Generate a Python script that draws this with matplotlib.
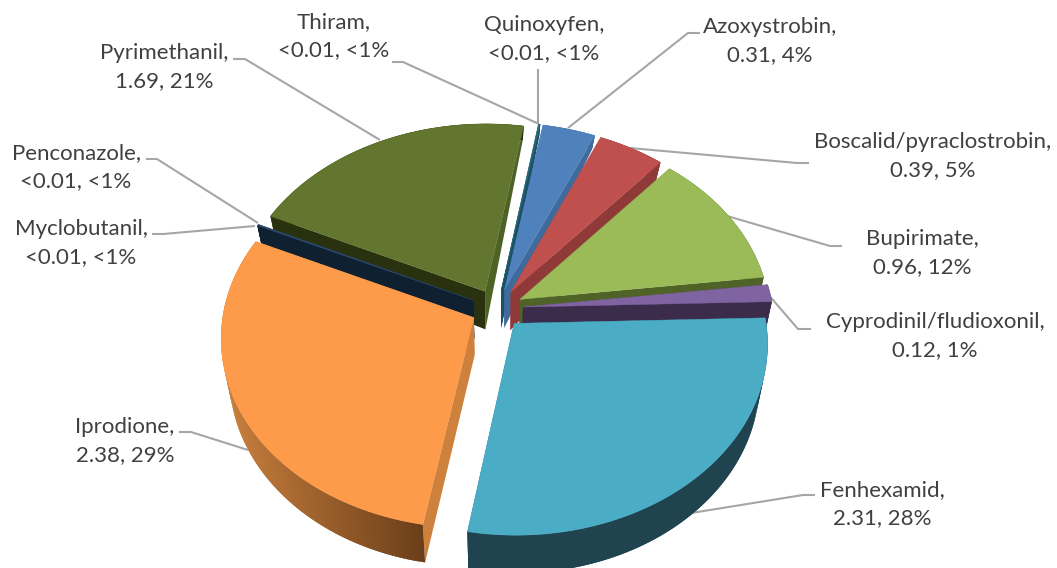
import numpy as np
import matplotlib
matplotlib.use('Agg')
import matplotlib.pyplot as plt
from matplotlib.patches import Polygon

plt.rcParams['font.family'] = ['Lato', 'DejaVu Sans']

# data, clockwise from the first slice
names = ['Azoxystrobin', 'Boscalid/pyraclostrobin', 'Bupirimate', 'Cyprodinil/fludioxonil',
         'Fenhexamid', 'Iprodione', 'Myclobutanil', 'Penconazole', 'Pyrimethanil',
         'Quinoxyfen', 'Thiram']
values = [0.31, 0.39, 0.96, 0.12, 2.31, 2.38, 0.005, 0.005, 1.69, 0.005, 0.005]
val_text = ['0.31', '0.39', '0.96', '0.12', '2.31', '2.38', '<0.01', '<0.01', '1.69', '<0.01', '<0.01']
pct_text = ['4%', '5%', '12%', '1%', '28%', '29%', '<1%', '<1%', '21%', '<1%', '<1%']

# colours: top, start cut face, end cut face, rim at left, rim at right
top_cols = ['#4F81BD', '#C0504D', '#9BBB59', '#8064A2', '#4BACC6', '#FD9B4B',
            '#2C4D75', '#2C4D75', '#63762F', '#276A7C', '#276A7C']
start_cols = ['#3F6A9C', '#8F3A38', '#4F6228', '#3C2C4C', '#1F444F', '#CE813C',
              '#0F2030', '#0F2030', '#2A310F', '#1D5060', '#1D5060']
end_cols = ['#3F6A9C', '#8F3A38', '#4F6228', '#3C2C4C', '#1F444F', '#CE813C',
            '#0F2030', '#0F2030', '#4E6226', '#1D5060', '#1D5060']
rim_left = ['#3F6A9C', '#8F3A38', '#4F6228', '#3C2C4C', '#1F444F', '#C67E3C',
            '#0F2030', '#0F2030', '#2A310F', '#1D5060', '#1D5060']
rim_right = ['#3F6A9C', '#8F3A38', '#4F6228', '#3C2C4C', '#1F444F', '#683D19',
             '#0F2030', '#0F2030', '#2A310F', '#1D5060', '#1D5060']

# pie placement in pixels
X0, Y0 = 497, 308.5
A, B = 250, 187.5
K = 0.1
DEPTH = 38
BACK_DEPTH = 14
SHRINK = 0.97
EXPLODE = 0.104
START = 10.0

# label text centres and leader lines
label_xy = [(770, 41), (933, 156), (922, 253), (935, 336), (882, 504), (125, 441),
            (81, 243), (76, 167), (164, 67), (544, 39), (334, 36)]
leaders = [[(700, 33), (688, 33), (568, 128)],
           [(809, 163), (797, 163), (630, 148)],
           [(842, 246), (830, 246), (727, 216)],
           [(811, 329), (798, 329), (767, 293)],
           [(815, 495), (803, 495), (685, 514)],
           [(179, 432), (191, 432), (248, 450)],
           [(152, 234), (163, 234), (255, 226)],
           [(146, 159), (157, 159), (258, 223)],
           [(233, 59), (245, 59), (380, 140)],
           [(538, 69), (538, 123)],
           [(392, 62), (403, 62), (539, 124)]]


def project(u, v):
    s = 1 + K * v
    return X0 + A * u / s, Y0 - B * v / s


def lower(x, y, v):
    # the underside sits lower, and is further from the camera
    d = DEPTH - (DEPTH - BACK_DEPTH) * np.clip((v - 0.35) / 0.65, 0, 1)
    return X0 + (x - X0) * SHRINK, y + d


def lerp_col(c1, c2, t):
    r1 = np.array(matplotlib.colors.to_rgb(c1))
    r2 = np.array(matplotlib.colors.to_rgb(c2))
    return r1 + (r2 - r1) * t


fig = plt.figure(figsize=(10.57, 5.68), dpi=100)
ax = fig.add_axes([0, 0, 1, 1])
ax.set_xlim(0, 1057)
ax.set_ylim(568, 0)
ax.axis('off')

for pts in leaders:
    xs, ys = zip(*pts)
    ax.plot(xs, ys, color='#A6A6A6', lw=1.5, zorder=1, solid_capstyle='butt')

for i, name in enumerate(names):
    x, y = label_xy[i]
    ax.text(x, y, f'{name},\n{val_text[i]}, {pct_text[i]}', ha='center', va='center',
            fontsize=16, color='#404040', linespacing=1.5, zorder=50)

spans = np.array(values) / sum(values) * 360
starts = START + np.concatenate([[0], np.cumsum(spans)[:-1]])
mids = np.radians(starts + spans / 2)

# back slices first
order = np.argsort(-np.cos(mids))
z = 2
for i in order:
    th = np.radians(np.linspace(starts[i], starts[i] + spans[i], 90))
    ou, ov = EXPLODE * np.sin(mids[i]), EXPLODE * np.cos(mids[i])
    ax0, ay0 = project(ou, ov)
    bx0, by0 = lower(ax0, ay0, ov)
    rv = ov + np.cos(th)
    rx, ry = project(ou + np.sin(th), rv)
    lx, ly = lower(rx, ry, rv)

    # cut faces
    face1 = [(ax0, ay0), (rx[0], ry[0]), (lx[0], ly[0]), (bx0, by0)]
    face2 = [(ax0, ay0), (rx[-1], ry[-1]), (lx[-1], ly[-1]), (bx0, by0)]
    ax.add_patch(Polygon(face2, fc=end_cols[i], ec='none', zorder=z))
    ax.add_patch(Polygon(face1, fc=start_cols[i], ec='none', zorder=z))

    # rim, shaded left to right, each piece overlaps the next to hide seams
    for j in range(len(th) - 1):
        k = min(j + 2, len(th) - 1)
        t = np.clip((rx[j] - 230) / 200, 0, 1)
        q = [(rx[j], ry[j]), (rx[k], ry[k]), (lx[k], ly[k]), (lx[j], ly[j])]
        ax.add_patch(Polygon(q, fc=lerp_col(rim_left[i], rim_right[i], t), ec='none', zorder=z))

    # top
    top = [(ax0, ay0)] + list(zip(rx, ry))
    ax.add_patch(Polygon(top, fc=top_cols[i], ec=top_cols[i], lw=0.3, zorder=z + 0.5))
    z += 1

fig.savefig('out.png', dpi=100)
